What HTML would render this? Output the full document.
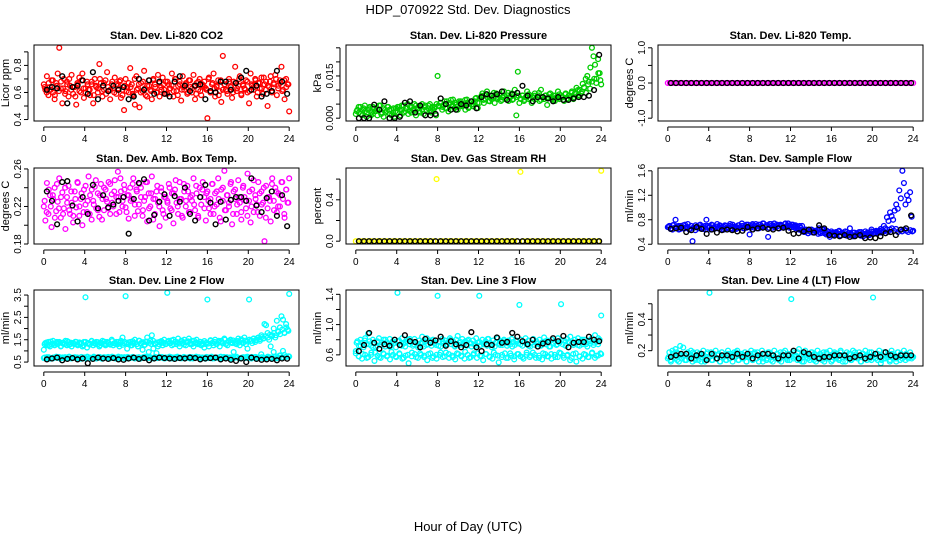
<!DOCTYPE html>
<html><head><meta charset="utf-8"><title>HDP_070922 Std. Dev. Diagnostics</title>
<style>
html,body{margin:0;padding:0;background:#fff;}
svg{display:block;font-family:"Liberation Sans",Arial,sans-serif;}
</style></head>
<body>
<svg id="chart" width="936" height="540" viewBox="0 0 936 540" xmlns="http://www.w3.org/2000/svg">
<rect x="0" y="0" width="936" height="540" fill="#fff"/>
<text x="468" y="14" text-anchor="middle" font-size="13">HDP_070922  Std. Dev. Diagnostics</text>
<text x="468" y="531" text-anchor="middle" font-size="13">Hour of Day (UTC)</text>
</svg>
<script>
// ---------- data ----------
const co2Red = [0.66,0.62,0.72,0.58,0.64,0.69,0.60,0.55,0.67,0.74,0.93,0.63,0.52,0.70,0.61,0.68,0.57,0.65,0.73,0.59,
0.64,0.51,0.66,0.71,0.60,0.74,0.56,0.63,0.68,0.62,0.58,0.66,0.52,0.70,0.64,0.60,0.81,0.67,0.57,0.62,
0.69,0.75,0.61,0.55,0.66,0.63,0.71,0.59,0.65,0.68,0.56,0.62,0.47,0.70,0.64,0.60,0.78,0.66,0.58,0.51,
0.72,0.63,0.49,0.67,0.61,0.76,0.58,0.65,0.69,0.62,0.55,0.70,0.66,0.60,0.73,0.57,0.64,0.71,0.62,0.68,
0.59,0.66,0.63,0.74,0.57,0.70,0.61,0.65,0.68,0.54,0.72,0.62,0.66,0.59,0.69,0.64,0.60,0.73,0.55,0.67,
0.62,0.70,0.58,0.65,0.68,0.63,0.41,0.71,0.60,0.66,0.74,0.57,0.64,0.69,0.61,0.53,0.87,0.66,0.62,0.59,
0.70,0.64,0.56,0.68,0.79,0.61,0.65,0.72,0.58,0.66,0.63,0.69,0.60,0.52,0.74,0.65,0.62,0.70,0.57,0.67,
0.63,0.71,0.59,0.66,0.68,0.50,0.64,0.72,0.61,0.67,0.73,0.58,0.65,0.69,0.79,0.62,0.55,0.70,0.66,0.46];
const co2RedFill = [0.64,0.60,0.67,0.62,0.69,0.58,0.65,0.61,0.68,0.63,0.59,0.66,0.70,0.62,0.64,0.57,0.67,0.61,0.69,0.63,
0.60,0.66,0.62,0.68,0.58,0.65,0.63,0.70,0.61,0.67,0.59,0.64,0.62,0.68,0.60,0.66,0.63,0.69,0.58,0.65,
0.61,0.67,0.64,0.59,0.70,0.62,0.66,0.60,0.68,0.63,0.57,0.65,0.61,0.69,0.64,0.60,0.67,0.62,0.66,0.59,
0.68,0.63,0.65,0.61,0.70,0.58,0.66,0.62,0.64,0.67,0.60,0.69,0.63,0.65,0.59,0.68,0.61,0.66,0.64,0.62,
0.70,0.60,0.67,0.63,0.65,0.58,0.69,0.62,0.66,0.61,0.68,0.64,0.60,0.67,0.63,0.70,0.59,0.65,0.62,0.68,
0.61,0.66,0.64,0.69,0.60,0.67,0.63,0.71,0.62,0.65,0.68,0.60,0.66,0.70,0.63,0.67,0.61,0.69,0.64,0.66];
const co2Black = [0.62,0.64,0.63,0.72,0.52,0.64,0.65,0.69,0.59,0.75,0.55,0.65,0.61,0.65,0.62,0.64,0.55,0.57,0.70,0.62,0.69,0.59,0.68,0.59,0.57,0.68,0.72,0.65,0.61,0.65,0.66,0.55,0.61,0.60,0.68,0.68,0.62,0.67,0.71,0.76,0.62,0.65,0.57,0.59,0.61,0.76,0.68,0.59];

const pressGreen = [0.0015,0.0030,0.0020,0.0040,0.0010,0.0035,0.0025,0.0005,0.0030,0.0040,0.0020,0.0015,0.0035,0.0025,0.0010,0.0030,0.0045,0.0020,0.0005,0.0030,0.0025,0.0040,0.0015,0.0030,0.0020,0.0005,0.0035,
0.0020,0.0040,0.0010,0.0030,0.0045,0.0025,0.0035,0.0015,0.0040,0.0020,0.0030,0.0050,0.0010,0.0035,0.0025,0.0040,0.0030,0.0015,0.0045,0.0025,0.0035,0.0050,0.0020,0.0030,0.0040,0.0010,0.0150,
0.0042,0.0054,0.0030,0.0048,0.0036,0.0060,0.0024,0.0054,0.0042,0.0066,0.0036,0.0048,0.0030,0.0054,0.0060,0.0042,0.0048,0.0030,0.0066,0.0036,0.0054,0.0048,0.0042,0.0060,0.0072,0.0036,0.0054,
0.0074,0.0088,0.0054,0.0068,0.0095,0.0061,0.0081,0.0068,0.0074,0.0054,0.0088,0.0068,0.0081,0.0061,0.0074,0.0095,0.0068,0.0081,0.0061,0.0074,0.0088,0.0068,0.0101,0.0010,0.0165,0.0054,
0.0068,0.0081,0.0061,0.0074,0.0095,0.0068,0.0081,0.0054,0.0074,0.0088,0.0068,0.0081,0.0061,0.0101,0.0074,0.0068,0.0081,0.0047,0.0074,0.0088,0.0068,0.0081,0.0061,0.0074,0.0095,0.0068,0.0081,
0.0074,0.0061,0.0088,0.0068,0.0081,0.0074,0.0095,0.0068,0.0088,0.0108,0.0081,0.0101,0.0088,0.0122,0.0108,0.0140,0.0150,0.0130,0.0180,0.0250,0.0220,0.0190,0.0140,0.0210,0.0160,0.0120];
const pressGreenFill = [0.0025,0.0040,0.0015,0.0030,0.0045,0.0020,0.0035,0.0010,0.0040,0.0025,0.0030,0.0045,0.0015,0.0035,0.0020,0.0040,0.0030,0.0010,0.0035,0.0025,
0.0040,0.0030,0.0045,0.0020,0.0035,0.0050,0.0025,0.0040,0.0030,0.0045,0.0035,0.0020,0.0050,0.0040,0.0030,0.0045,0.0025,0.0040,0.0035,0.0050,
0.0045,0.0055,0.0040,0.0060,0.0035,0.0050,0.0065,0.0045,0.0055,0.0040,0.0060,0.0050,0.0045,0.0065,0.0055,0.0040,0.0060,0.0050,0.0070,0.0055,
0.0070,0.0080,0.0065,0.0085,0.0075,0.0060,0.0080,0.0090,0.0070,0.0075,0.0085,0.0065,0.0080,0.0070,0.0090,0.0075,0.0065,0.0085,0.0075,0.0080,
0.0070,0.0080,0.0065,0.0075,0.0085,0.0070,0.0060,0.0080,0.0075,0.0090,0.0065,0.0075,0.0080,0.0070,0.0085,0.0075,0.0065,0.0080,0.0070,0.0085,
0.0075,0.0065,0.0085,0.0070,0.0080,0.0090,0.0075,0.0085,0.0100,0.0080,0.0095,0.0110,0.0090,0.0120,0.0105,0.0130,0.0140,0.0125,0.0160,0.0135];
const pressBlack = [0.0000,0.0000,0.0000,0.0048,0.0030,0.0060,0.0000,0.0000,0.0005,0.0055,0.0060,0.0020,0.0045,0.0010,0.0010,0.0015,0.0070,0.0050,0.0030,0.0030,0.0050,0.0045,0.0060,0.0035,0.0075,0.0085,0.0080,0.0085,0.0095,0.0065,0.0085,0.0090,0.0115,0.0080,0.0060,0.0075,0.0075,0.0070,0.0060,0.0075,0.0065,0.0065,0.0070,0.0075,0.0075,0.0080,0.0100,0.0225];

const tempMagenta = [0,0,0,0,0,0,0,0,0,0,0,0,0,0,0,0,0,0,0,0,0,0,0,0,0,0,0,0,0,0,0,0,0,0,0,0,0,0,0,0,
0,0,0,0,0,0,0,0,0,0,0,0,0,0,0,0,0,0,0,0,0,0,0,0,0,0,0,0,0,0,0,0,0,0,0,0,0,0,0,0,
0,0,0,0,0,0,0,0,0,0,0,0,0,0,0,0,0,0,0,0,0,0,0,0,0,0,0,0,0,0,0,0,0,0,0,0,0,0,0,0];
const tempBlack = [0,0,0,0,0,0,0,0,0,0,0,0,0,0,0,0,0,0,0,0,0,0,0,0,0,0,0,0,0,0,0,0,0,0,0,0,0,0,0,0,0,0,0,0,0,0,0,0];

const boxMagenta = [0.220,0.205,0.245,0.212,0.232,0.198,0.228,0.240,0.215,0.225,0.250,0.208,0.235,0.218,0.196,0.230,0.242,0.212,0.224,0.203,
0.236,0.219,0.245,0.210,0.228,0.200,0.238,0.222,0.214,0.252,0.232,0.206,0.226,0.241,0.218,0.234,0.209,0.244,0.228,0.216,
0.238,0.225,0.246,0.212,0.233,0.220,0.248,0.230,0.257,0.214,0.236,0.226,0.243,0.219,0.232,0.207,0.240,0.228,0.250,0.222,
0.238,0.215,0.244,0.230,0.210,0.226,0.246,0.204,0.234,0.220,0.252,0.228,0.212,0.236,0.224,0.199,0.240,0.216,0.230,0.208,
0.226,0.244,0.218,0.234,0.202,0.238,0.224,0.212,0.246,0.228,0.208,0.236,0.220,0.242,0.214,0.230,0.226,0.250,0.216,0.234,
0.210,0.240,0.222,0.246,0.230,0.205,0.236,0.218,0.228,0.244,0.212,0.234,0.222,0.250,0.208,0.238,0.226,0.258,0.216,0.232,
0.220,0.244,0.201,0.236,0.228,0.212,0.248,0.224,0.206,0.240,0.230,0.218,0.255,0.226,0.203,0.238,0.214,0.232,0.222,0.246,
0.210,0.236,0.224,0.183,0.242,0.218,0.230,0.204,0.250,0.226,0.240,0.214,0.234,0.220,0.246,0.228,0.208,0.238,0.224,0.250];
const boxMagentaFill = [0.226,0.214,0.238,0.220,0.232,0.208,0.244,0.218,0.230,0.212,0.240,0.224,0.216,0.236,0.210,0.228,0.246,0.220,0.234,0.214,
0.242,0.226,0.212,0.238,0.222,0.248,0.216,0.232,0.206,0.240,0.228,0.218,0.244,0.224,0.236,0.212,0.230,0.250,0.220,0.238,
0.214,0.232,0.226,0.244,0.210,0.236,0.222,0.240,0.216,0.230,0.246,0.218,0.234,0.206,0.228,0.242,0.220,0.236,0.212,0.230,
0.224,0.240,0.216,0.234,0.248,0.220,0.228,0.210,0.244,0.226,0.236,0.214,0.232,0.222,0.242,0.208,0.230,0.238,0.218,0.234,
0.226,0.212,0.244,0.220,0.236,0.228,0.204,0.240,0.216,0.232,0.224,0.246,0.212,0.238,0.222,0.230,0.214,0.242,0.226,0.210,
0.236,0.220,0.248,0.228,0.214,0.234,0.222,0.240,0.208,0.230,0.226,0.244,0.216,0.236,0.220,0.232,0.246,0.212,0.238,0.224];
const boxBlack = [0.236,0.226,0.201,0.246,0.247,0.221,0.204,0.230,0.212,0.243,0.218,0.232,0.219,0.222,0.226,0.230,0.191,0.228,0.245,0.249,0.205,0.211,0.225,0.233,0.210,0.231,0.225,0.240,0.212,0.205,0.230,0.243,0.224,0.201,0.225,0.206,0.227,0.230,0.230,0.226,0.250,0.221,0.214,0.229,0.236,0.210,0.232,0.199];

const rhYellow = [0,0,0,0,0,0,0,0,0,0,0,0,0,0,0,0,0,0,0,0,0,0,0,0,0,0,0.60,0,0,0,0,0,0,0,0,0,0,0,0,0,
0,0,0,0,0,0,0,0,0,0,0,0,0,0.67,0,0,0,0,0,0,0,0,0,0,0,0,0,0,0,0,0,0,0,0,0,0,0,0,0,0.68];
const rhBlack = [0,0,0,0,0,0,0,0,0,0,0,0,0,0,0,0,0,0,0,0,0,0,0,0,0,0,0,0,0,0,0,0,0,0,0,0,0,0,0,0,0,0,0,0,0,0,0,0];

const flowBlue = [0.68,0.70,0.66,0.64,0.72,0.80,0.67,0.70,0.65,0.69,0.71,0.66,0.68,0.73,0.64,0.70,0.45,0.67,0.71,0.69,
0.66,0.72,0.68,0.65,0.70,0.80,0.67,0.69,0.64,0.71,0.68,0.66,0.73,0.67,0.70,0.65,0.69,0.71,0.66,0.68,
0.70,0.64,0.72,0.67,0.69,0.66,0.71,0.68,0.74,0.66,0.70,0.67,0.72,0.56,0.69,0.71,0.67,0.73,0.70,0.66,
0.72,0.69,0.74,0.68,0.71,0.52,0.73,0.70,0.67,0.74,0.71,0.69,0.66,0.72,0.70,0.67,0.73,0.69,0.74,0.71,
0.68,0.72,0.70,0.66,0.69,0.64,0.67,0.70,0.62,0.60,0.63,0.58,0.61,0.64,0.59,0.62,0.60,0.63,0.66,0.58,
0.61,0.64,0.60,0.62,0.57,0.52,0.61,0.59,0.56,0.60,0.58,0.62,0.55,0.59,0.57,0.61,0.54,0.58,0.66,0.56,
0.53,0.59,0.55,0.57,0.60,0.54,0.58,0.56,0.61,0.55,0.59,0.57,0.64,0.60,0.58,0.62,0.61,0.59,0.65,0.63,
0.70,0.66,0.84,0.78,0.92,0.86,0.80,0.95,1.05,0.98,1.28,1.15,1.60,1.40,1.05,1.20,1.12,1.25,0.85,0.62];
const flowBlueFill = [0.68,0.65,0.71,0.67,0.69,0.64,0.70,0.66,0.72,0.68,0.65,0.70,0.67,0.63,0.69,0.71,0.66,0.68,0.64,0.70,
0.67,0.72,0.65,0.69,0.66,0.71,0.68,0.64,0.70,0.67,0.73,0.66,0.69,0.65,0.71,0.68,0.70,0.66,0.72,0.69,
0.67,0.73,0.70,0.66,0.72,0.68,0.74,0.69,0.71,0.67,0.73,0.70,0.68,0.72,0.66,0.71,0.69,0.74,0.70,0.67,
0.72,0.68,0.71,0.66,0.70,0.62,0.60,0.64,0.58,0.61,0.63,0.59,0.62,0.57,0.60,0.64,0.58,0.56,0.60,0.58,
0.55,0.59,0.57,0.61,0.54,0.58,0.56,0.60,0.55,0.57,0.59,0.54,0.58,0.56,0.60,0.53,0.57,0.59,0.55,0.61,
0.57,0.60,0.58,0.62,0.59,0.61,0.63,0.60,0.64,0.66,0.62,0.65,0.60,0.63,0.61,0.64,0.62,0.60,0.63,0.61];
const flowBlack = [0.65,0.66,0.67,0.60,0.63,0.68,0.65,0.57,0.64,0.59,0.63,0.64,0.63,0.61,0.62,0.68,0.64,0.66,0.67,0.65,0.64,0.66,0.67,0.62,0.57,0.58,0.61,0.64,0.59,0.71,0.66,0.55,0.54,0.53,0.55,0.52,0.53,0.55,0.50,0.51,0.50,0.53,0.58,0.60,0.55,0.64,0.66,0.87];

const line2CyanUpper = [1.05,1.35,1.25,1.40,1.20,1.30,1.45,1.25,1.35,1.30,1.40,1.20,1.35,1.30,1.45,1.25,1.40,1.30,1.20,1.35,
1.30,1.40,1.25,1.35,1.30,1.20,1.40,3.40,1.15,1.35,1.30,1.45,1.25,1.35,1.40,1.30,1.20,1.35,1.45,1.30,
1.25,1.40,1.35,1.30,1.50,1.25,1.35,1.40,1.30,1.20,1.45,1.60,1.35,3.45,1.10,1.30,1.40,1.25,1.35,1.50,
1.30,1.20,1.45,1.35,1.05,1.25,1.40,1.60,0.95,1.45,1.70,1.10,1.30,0.90,1.20,1.40,1.35,1.25,1.50,1.30,
3.60,1.45,1.35,1.25,1.50,1.40,1.30,1.55,1.20,1.45,1.35,1.50,1.25,1.40,1.55,1.30,1.45,1.20,1.35,1.50,
1.30,1.40,1.25,1.35,1.15,1.30,3.30,1.20,1.45,1.35,1.25,1.50,1.30,1.40,1.20,1.45,1.35,1.55,1.30,1.25,
1.45,1.50,1.35,0.95,1.40,1.30,1.55,1.25,1.45,1.35,1.60,1.30,1.10,3.30,1.45,1.35,1.55,1.40,1.50,1.60,
1.45,1.70,1.55,2.20,2.15,1.80,1.50,1.20,1.70,2.00,1.60,2.35,1.85,2.05,2.55,2.40,1.80,2.20,1.95,3.55];
const line2CyanUpperFill = [1.30,1.38,1.25,1.42,1.33,1.28,1.40,1.35,1.22,1.37,1.31,1.44,1.27,1.36,1.32,1.41,1.29,1.38,1.34,1.25,
1.40,1.33,1.28,1.43,1.36,1.30,1.39,1.26,1.35,1.42,1.31,1.37,1.28,1.44,1.34,1.30,1.40,1.36,1.27,1.41,
1.33,1.38,1.25,1.43,1.35,1.30,1.46,1.32,1.39,1.28,1.42,1.36,1.31,1.45,1.34,1.38,1.29,1.44,1.36,1.32,
1.40,1.35,1.47,1.30,1.42,1.37,1.33,1.45,1.28,1.39,1.43,1.35,1.31,1.46,1.38,1.34,1.41,1.29,1.44,1.37,
1.33,1.48,1.36,1.40,1.31,1.45,1.38,1.34,1.50,1.36,1.42,1.39,1.47,1.33,1.44,1.40,1.52,1.37,1.46,1.42,
1.50,1.45,1.55,1.48,1.58,1.52,1.62,1.56,1.66,1.60,1.72,1.65,1.80,1.70,1.88,1.75,1.95,1.82,2.05,1.90];
const line2CyanLower = [0.68,0.72,0.65,0.70,0.74,0.67,0.71,0.66,0.73,0.69,0.72,0.68,0.65,0.71,0.74,0.67,0.70,0.66,0.73,0.69,
0.71,0.68,0.74,0.66,0.70,0.72,0.67,0.73,0.69,0.71,0.68,0.65,0.72,0.70,0.74,0.67,0.71,0.69,0.73,0.66,
0.70,0.72,0.68,0.74,0.67,0.71,0.69,0.73,0.66,0.70,0.72,0.68,0.65,0.71,0.74,0.67,0.70,0.66,0.73,0.69,
0.71,0.68,0.74,0.66,0.70,0.72,0.67,0.73,0.69,0.71,0.85,0.65,0.72,0.70,0.95,0.67,0.80,1.00,0.73,0.75];
const line2CyanLowerFill = [0.70,0.67,0.72,0.68,0.66,0.71,0.69,0.73,0.67,0.70,0.72,0.68,0.74,0.66,0.70,0.69,0.71,0.67,0.73,0.68,
0.66,0.72,0.70,0.68,0.74,0.67,0.71,0.69,0.65,0.72,0.70,0.73,0.67,0.69,0.71,0.66,0.74,0.68,0.70,0.72,
0.67,0.71,0.69,0.73,0.66,0.70,0.72,0.68,0.71,0.74,0.67,0.69,0.70,0.66,0.73,0.68,0.72,0.70,0.67,0.71,
0.69,0.74,0.66,0.70,0.72,0.68,0.71,0.67,0.73,0.69,0.70,0.66,0.72,0.68,0.74,0.70,0.67,0.71,0.69,0.73,
0.68,0.72,0.66,0.70,0.71,0.67,0.74,0.69,0.70,0.72,0.68,0.66,0.73,0.70,0.71,0.67,0.69,0.72,0.68,0.74,
0.70,0.66,0.71,0.73,0.69,0.67,0.72,0.70,0.68,0.74,0.71,0.69,0.73,0.75,0.70,0.78,0.72,0.82,0.74,0.76];
const line2Black = [0.62,0.66,0.70,0.58,0.64,0.68,0.62,0.66,0.45,0.64,0.70,0.66,0.64,0.68,0.62,0.60,0.66,0.70,0.64,0.68,0.58,0.66,0.70,0.68,0.66,0.64,0.68,0.66,0.70,0.68,0.62,0.66,0.68,0.70,0.62,0.66,0.60,0.55,0.66,0.50,0.70,0.64,0.60,0.62,0.64,0.58,0.66,0.65];

const line3CyanUpper = [0.65,0.78,0.72,0.80,0.76,0.70,0.82,0.74,0.88,0.78,0.72,0.80,0.75,0.70,0.78,0.82,0.73,0.76,0.80,0.71,
0.77,0.74,0.81,0.72,0.78,0.76,0.70,1.42,0.79,0.73,0.82,0.75,0.71,0.78,0.80,0.74,0.77,0.72,0.81,0.76,
0.73,0.79,0.75,0.84,0.71,0.78,0.82,0.74,0.77,0.72,0.80,0.76,0.73,1.38,0.78,0.71,0.81,0.75,0.79,0.73,
0.77,0.82,0.74,0.78,0.72,0.80,0.85,0.73,0.77,0.81,0.74,0.78,0.72,0.80,0.76,0.71,0.79,0.74,0.82,0.76,
1.38,0.73,0.80,0.75,0.78,0.72,0.81,0.76,0.74,0.79,0.71,0.77,0.82,0.75,0.78,0.73,0.80,0.76,0.72,0.79,
0.74,0.81,0.77,0.73,0.78,0.75,1.26,0.80,0.72,0.77,0.82,0.74,0.79,0.71,0.76,0.81,0.73,0.78,0.75,0.80,
0.72,0.77,0.83,0.74,0.79,0.76,0.71,0.80,0.75,0.78,0.73,0.82,0.76,1.27,0.74,0.79,0.72,0.81,0.77,0.84,
0.75,0.73,0.80,0.76,0.82,0.72,0.78,0.74,0.80,0.76,0.71,0.79,0.75,0.82,0.73,0.86,0.77,0.74,0.80,1.12];
const line3CyanFill = [0.76,0.58,0.72,0.61,0.79,0.56,0.74,0.60,0.70,0.63,0.77,0.57,0.73,0.62,0.80,0.59,0.71,0.64,0.75,0.58,
0.78,0.61,0.72,0.56,0.76,0.60,0.81,0.63,0.74,0.57,0.70,0.62,0.77,0.59,0.73,0.61,0.79,0.56,0.75,0.60,
0.72,0.63,0.78,0.58,0.74,0.61,0.80,0.57,0.71,0.62,0.76,0.59,0.73,0.64,0.79,0.56,0.75,0.60,0.72,0.62,
0.77,0.58,0.74,0.61,0.81,0.57,0.70,0.63,0.76,0.59,0.73,0.60,0.78,0.56,0.75,0.62,0.71,0.58,0.79,0.61,
0.74,0.57,0.77,0.63,0.72,0.59,0.80,0.60,0.75,0.56,0.73,0.62,0.78,0.58,0.71,0.61,0.76,0.57,0.74,0.63,
0.79,0.59,0.72,0.60,0.77,0.56,0.75,0.62,0.73,0.58,0.80,0.61,0.74,0.57,0.78,0.63,0.76,0.59,0.82,0.62];
const line3CyanLower = [0.62,0.58,0.55,0.60,0.57,0.63,0.52,0.59,0.56,0.61,0.58,0.54,0.60,0.57,0.62,0.55,0.59,0.49,0.58,0.61,
0.56,0.60,0.57,0.53,0.62,0.58,0.55,0.60,0.57,0.63,0.56,0.59,0.54,0.61,0.58,0.55,0.60,0.57,0.62,0.56,
0.59,0.53,0.61,0.58,0.55,0.60,0.50,0.57,0.62,0.56,0.59,0.54,0.61,0.58,0.55,0.60,0.57,0.63,0.56,0.59,
0.54,0.61,0.58,0.55,0.60,0.57,0.62,0.56,0.59,0.53,0.61,0.51,0.58,0.55,0.60,0.57,0.62,0.56,0.59,0.61];
const line3Black = [0.65,0.73,0.89,0.76,0.68,0.74,0.72,0.80,0.73,0.86,0.78,0.77,0.70,0.81,0.76,0.79,0.84,0.72,0.78,0.74,0.70,0.73,0.90,0.70,0.65,0.74,0.73,0.83,0.76,0.77,0.89,0.84,0.78,0.74,0.80,0.71,0.75,0.77,0.82,0.78,0.85,0.70,0.76,0.77,0.77,0.84,0.80,0.78];

const line4Cyan = [0.15,0.19,0.13,0.20,0.16,0.21,0.14,0.18,0.23,0.15,0.22,0.17,0.14,0.19,0.16,0.20,0.13,0.18,0.15,0.19,
0.14,0.17,0.16,0.20,0.13,0.18,0.15,0.57,0.19,0.14,0.17,0.20,0.15,0.18,0.13,0.19,0.16,0.17,0.14,0.20,
0.15,0.18,0.13,0.19,0.16,0.20,0.14,0.17,0.18,0.15,0.19,0.13,0.17,0.16,0.20,0.14,0.18,0.15,0.19,0.13,
0.17,0.20,0.15,0.18,0.14,0.19,0.16,0.17,0.13,0.20,0.15,0.18,0.14,0.19,0.16,0.17,0.20,0.15,0.18,0.14,
0.53,0.19,0.16,0.17,0.14,0.21,0.15,0.13,0.18,0.20,0.16,0.17,0.14,0.19,0.15,0.18,0.13,0.20,0.16,0.17,
0.14,0.19,0.15,0.18,0.16,0.20,0.13,0.17,0.19,0.15,0.18,0.14,0.20,0.16,0.17,0.13,0.19,0.15,0.18,0.14,
0.20,0.16,0.17,0.15,0.19,0.13,0.18,0.16,0.20,0.14,0.17,0.15,0.19,0.54,0.16,0.18,0.14,0.20,0.12,0.17,
0.15,0.19,0.16,0.18,0.14,0.20,0.15,0.17,0.13,0.19,0.16,0.18,0.15,0.20,0.14,0.17,0.16,0.19,0.15,0.16];
const line4CyanFill = [0.16,0.14,0.18,0.15,0.19,0.13,0.17,0.16,0.14,0.18,0.15,0.17,0.19,0.14,0.16,0.18,0.13,0.17,0.15,0.19,
0.16,0.14,0.18,0.15,0.17,0.13,0.19,0.16,0.14,0.18,0.15,0.17,0.16,0.19,0.14,0.18,0.15,0.17,0.13,0.16,
0.18,0.14,0.19,0.15,0.17,0.16,0.13,0.18,0.15,0.19,0.14,0.17,0.16,0.18,0.15,0.13,0.19,0.16,0.14,0.17,
0.18,0.15,0.16,0.19,0.14,0.17,0.13,0.18,0.15,0.16,0.19,0.14,0.17,0.15,0.18,0.16,0.13,0.19,0.15,0.17,
0.14,0.18,0.16,0.15,0.19,0.13,0.17,0.16,0.18,0.14,0.15,0.19,0.16,0.17,0.13,0.18,0.15,0.16,0.19,0.14,
0.17,0.15,0.18,0.16,0.14,0.19,0.15,0.17,0.13,0.18,0.16,0.15,0.19,0.14,0.17,0.16,0.18,0.15,0.17,0.16];
const line4Black = [0.16,0.17,0.18,0.18,0.15,0.17,0.18,0.14,0.18,0.15,0.17,0.17,0.16,0.18,0.16,0.18,0.15,0.17,0.18,0.18,0.17,0.15,0.17,0.17,0.20,0.15,0.19,0.18,0.16,0.15,0.16,0.16,0.17,0.17,0.17,0.15,0.16,0.17,0.15,0.16,0.18,0.16,0.19,0.17,0.16,0.17,0.17,0.17];

const xTicks = [0,4,8,12,16,20,24];
const yTicksCo2 = [0.4,0.5,0.6,0.7,0.8,0.9];
const yLabelsCo2 = ["0.4","","0.6","","0.8",""];
const yTicksPress = [0,0.005,0.01,0.015,0.02,0.025];
const yLabelsPress = ["0.000","","","0.015","",""];
const yTicksTemp = [-1,-0.5,0,0.5,1];
const yLabelsTemp = ["-1.0","","0.0","","1.0"];
const yTicksBox = [0.18,0.20,0.22,0.24,0.26];
const yLabelsBox = ["0.18","","0.22","","0.26"];
const yTicksRh = [0,0.2,0.4,0.6];
const yLabelsRh = ["0.0","","0.4",""];
const yTicksFlow = [0.4,0.8,1.2,1.6];
const yLabelsFlow = ["0.4","0.8","1.2","1.6"];
const yTicksLine2 = [0.5,1,1.5,2,2.5,3,3.5];
const yLabelsLine2 = ["0.5","","1.5","","2.5","","3.5"];
const yTicksLine3 = [0.6,0.8,1.0,1.2,1.4];
const yLabelsLine3 = ["0.6","","1.0","","1.4"];
const yTicksLine4 = [0.2,0.3,0.4,0.5];
const yLabelsLine4 = ["0.2","","0.4",""];

const panels = [
 {name:"co2",title:"Stan. Dev. Li-820 CO2",ylab:"Licor ppm",series:[[co2Red,"#ff0000"],[co2RedFill,"#ff0000"]],black:co2Black,yt:yTicksCo2,yl:yLabelsCo2},
 {name:"pressure",title:"Stan. Dev. Li-820 Pressure",ylab:"kPa",series:[[pressGreen,"#00cd00"],[pressGreenFill,"#00cd00"]],black:pressBlack,yt:yTicksPress,yl:yLabelsPress},
 {name:"licor-temp",title:"Stan. Dev. Li-820 Temp.",ylab:"degrees C",series:[[tempMagenta,"#ff00ff"]],black:tempBlack,yt:yTicksTemp,yl:yLabelsTemp},
 {name:"box-temp",title:"Stan. Dev. Amb. Box Temp.",ylab:"degrees C",series:[[boxMagenta,"#ff00ff"],[boxMagentaFill,"#ff00ff"]],black:boxBlack,yt:yTicksBox,yl:yLabelsBox},
 {name:"gas-rh",title:"Stan. Dev. Gas Stream RH",ylab:"percent",series:[[rhYellow,"#ffff00"]],black:rhBlack,yt:yTicksRh,yl:yLabelsRh},
 {name:"sample-flow",title:"Stan. Dev. Sample Flow",ylab:"ml/min",series:[[flowBlue,"#0000ff"],[flowBlueFill,"#0000ff"]],black:flowBlack,yt:yTicksFlow,yl:yLabelsFlow},
 {name:"line2-flow",title:"Stan. Dev. Line 2 Flow",ylab:"ml/min",series:[[line2CyanUpper,"#00ffff"],[line2CyanUpperFill,"#00ffff"],[line2CyanLower,"#00ffff"],[line2CyanLowerFill,"#00ffff"]],black:line2Black,yt:yTicksLine2,yl:yLabelsLine2},
 {name:"line3-flow",title:"Stan. Dev. Line 3 Flow",ylab:"ml/min",series:[[line3CyanUpper,"#00ffff"],[line3CyanFill,"#00ffff"],[line3CyanLower,"#00ffff"]],black:line3Black,yt:yTicksLine3,yl:yLabelsLine3},
 {name:"line4-flow",title:"Stan. Dev. Line 4 (LT) Flow",ylab:"ml/min",series:[[line4Cyan,"#00ffff"],[line4CyanFill,"#00ffff"]],black:line4Black,yt:yTicksLine4,yl:yLabelsLine4}
];

// ---------- drawing ----------
const NS = "http://www.w3.org/2000/svg";
const svg = document.getElementById("chart");
function mk(tag, attrs, parent){
  const e = document.createElementNS(NS, tag);
  for (const k in attrs) e.setAttribute(k, attrs[k]);
  (parent||svg).appendChild(e);
  return e;
}
const lefts=[34,346,658], tops=[45,168,290], W=265, H=76;
const X0=0, X1=24, BLACK0=0.3, BLACK1=23.8;

panels.forEach((p,pi)=>{
  const L=lefts[pi%3], T=tops[Math.floor(pi/3)];
  const g = mk("g",{});
  
  
  let all=[];
  p.series.forEach(s=>{all=all.concat(s[0]);});
  all=all.concat(p.black);
  let mn=Math.min(...all), mx=Math.max(...all);
  if(mn===mx){mn-=1;mx+=1;}
  const pad=(mx-mn)*0.04; mn-=pad; mx+=pad;
  const xpad=(X1-X0)*0.04;
  const sx=v=>L+(v-(X0-xpad))/((X1-X0)+2*xpad)*W;
  const sy=v=>T+H-(v-mn)/(mx-mn)*H;

  p.series.forEach((s,si)=>{
    const vals=s[0], n=vals.length;
    const a=X0+(si%2)*0.08, b=X1-(si%2)*0.08;
    vals.forEach((v,i)=>{
      const x=a+i*(b-a)/(n-1);
      const c=mk("circle",{cx:sx(x).toFixed(2),cy:sy(v).toFixed(2),r:2.4,fill:"none",stroke:s[1],"stroke-width":1.3},g);
      
      
    });
  });
  const nb=p.black.length;
  p.black.forEach((v,i)=>{
    const x=BLACK0+i*(BLACK1-BLACK0)/(nb-1);
    const c=mk("circle",{cx:sx(x).toFixed(2),cy:sy(v).toFixed(2),r:2.4,fill:"none",stroke:"#000","stroke-width":1.4},g);
    
    
  });

  const box=mk("rect",{x:L,y:T,width:W,height:H,fill:"none",stroke:"#000","stroke-width":1},g);
  
  

  const t=mk("text",{x:L+W/2,y:T-6,"text-anchor":"middle","font-size":11,"font-weight":"bold"},g);
  t.textContent=p.title;
  
  

  const yl=mk("text",{transform:`translate(${L-25},${T+H/2}) rotate(-90)`,"text-anchor":"middle","font-size":11},g);
  yl.textContent=p.ylab;
  
  

  mk("line",{x1:sx(X0),x2:sx(X1),y1:T+H+6,y2:T+H+6,stroke:"#000"},g);
  xTicks.forEach(v=>{
    mk("line",{x1:sx(v),x2:sx(v),y1:T+H+6,y2:T+H+10,stroke:"#000"},g);
    const tx=mk("text",{x:sx(v),y:T+H+21,"text-anchor":"middle","font-size":10},g);
    tx.textContent=v;
    
    
  });

  mk("line",{x1:L-6,x2:L-6,y1:sy(p.yt[0]),y2:sy(p.yt[p.yt.length-1]),stroke:"#000"},g);
  p.yt.forEach((v,i)=>{
    const y=sy(v);
    mk("line",{x1:L-10,x2:L-6,y1:y,y2:y,stroke:"#000"},g);
    if(p.yl[i]){
      const ty=mk("text",{transform:`translate(${L-13},${y}) rotate(-90)`,"text-anchor":"middle","font-size":10},g);
      ty.textContent=p.yl[i];
      
      
    }
  });
});
</script>
</body></html>
